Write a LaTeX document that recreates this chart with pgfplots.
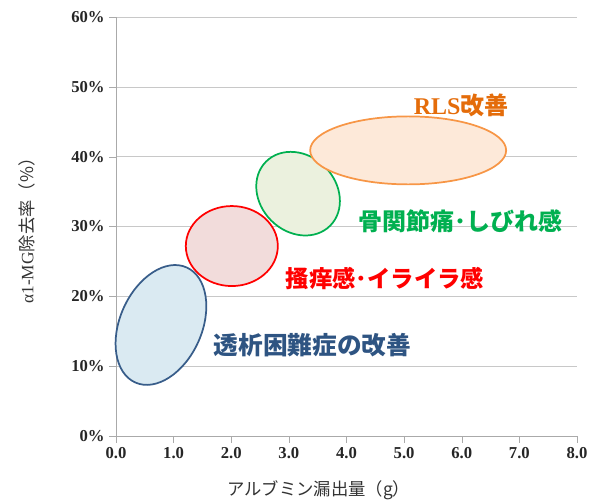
\documentclass[border=0pt]{standalone}
\usepackage{pgfplots}
\pgfplotsset{compat=1.18}
\usepackage{fontspec}
\setmainfont{Liberation Serif}
\newfontfamily\jp{Noto Sans CJK JP}
\definecolor{gridc}{RGB}{200,200,200}
\definecolor{axc}{RGB}{170,170,170}
\definecolor{bluel}{RGB}{56,93,138}
\definecolor{bluef}{RGB}{218,234,242}
\definecolor{redl}{RGB}{255,0,0}
\definecolor{redf}{RGB}{242,220,219}
\definecolor{greenl}{RGB}{0,176,80}
\definecolor{greenf}{RGB}{235,241,222}
\definecolor{orangel}{RGB}{247,150,70}
\definecolor{orangef}{RGB}{253,233,217}
\definecolor{oranget}{RGB}{228,108,10}
\definecolor{bluet}{RGB}{46,84,130}
\begin{document}
\begin{tikzpicture}
\begin{axis}[
  scale only axis,
  width=345.75pt, height=314.25pt,
  xmin=0, xmax=8, ymin=0, ymax=60,
  xtick={0,1,...,8}, ytick={0,10,...,60},
  axis lines=left,
  axis line style={-, draw=axc},
  tick style={draw=axc},
  tick align=outside,
  major tick length=5pt,
  ymajorgrids, grid style={draw=gridc},
  /pgf/number format/assume math mode=true,
  ticklabel style={font=\bfseries\fontsize{12.5}{14}\selectfont, text=black!85},
  xticklabel style={/pgf/number format/.cd, fixed, fixed zerofill, precision=1},
  yticklabel={\pgfmathprintnumber{\tick}\%},
  xlabel={\jp アルブミン漏出量（g）},
  ylabel={α1-MG{\jp 除去率（\%）}},
  every axis x label/.style={at={([yshift=-40.5pt]axis description cs:0.44,0)}, anchor=center, font=\fontsize{13}{15}\selectfont, text=black!80},
  every axis y label/.style={at={([xshift=-67pt]axis description cs:0,0.5)}, anchor=center, rotate=90, font=\fontsize{13}{15}\selectfont, text=black!80},
  clip=false,
]
% ellipses: centers in data units, radii in pt
\draw[bluel, line width=1.3pt, fill=bluef, rotate around={66:(axis cs:0.78,15.9)}] (axis cs:0.78,15.9) ellipse [x radius=47.25pt, y radius=30.75pt];
\draw[redl, line width=1.3pt, fill=redf] (axis cs:2.01,27.2) ellipse [x radius=34.5pt, y radius=30pt];
\draw[greenl, line width=1.3pt, fill=greenf, rotate around={135:(axis cs:3.16,34.7)}] (axis cs:3.16,34.7) ellipse [x radius=34pt, y radius=28.5pt];
\draw[orangel, line width=1.3pt, fill=orangef] (axis cs:5.07,40.9) ellipse [x radius=73.5pt, y radius=25.5pt];
% labels
\node[text=oranget, font=\bfseries\fontsize{18}{20}\selectfont] at (axis cs:5.99,47.3) {RLS{\jp 改善}};
\node[text=greenl, font=\bfseries\jp\fontsize{18}{20}\selectfont] at (axis cs:5.97,30.8) {骨関節痛･しびれ感};
\node[text=redl, font=\bfseries\jp\fontsize{17.5}{20}\selectfont] at (axis cs:4.67,22.6) {搔痒感･イライラ感};
\node[text=bluet, font=\bfseries\jp\fontsize{18.5}{20}\selectfont] at (axis cs:3.41,13.0) {透析困難症の改善};
\end{axis}
\pgfresetboundingbox
\useasboundingbox (-87pt,-49.5pt) rectangle (355.5pt,327pt);
\end{tikzpicture}
\end{document}
